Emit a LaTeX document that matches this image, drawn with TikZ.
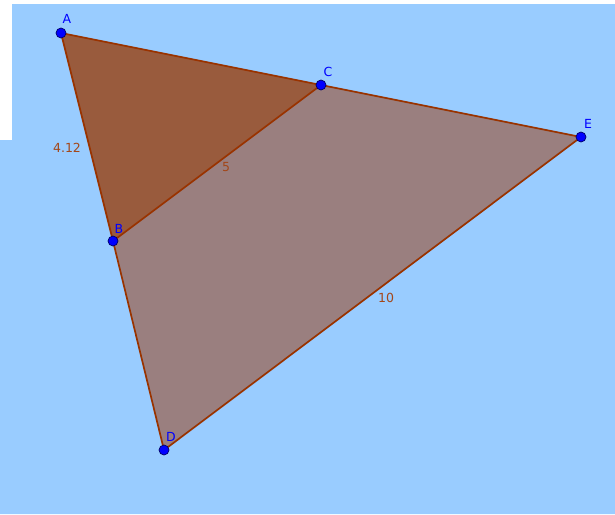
\documentclass[tikz,border=0pt]{standalone}
\usepackage{fontspec}
\setmainfont{DejaVu Sans}
\usepackage{xcolor}
\usetikzlibrary{positioning}
\definecolor{skyback}{RGB}{153,204,255}
\definecolor{edgebrown}{RGB}{153,51,0}
\definecolor{smallfill}{RGB}{153,91,61}
\definecolor{bigfill}{RGB}{154,127,127}
\definecolor{ptblue}{RGB}{0,0,255}
\tikzset{
    vertex/.style={circle,fill=ptblue,draw=ptblue!40!black,line width=0.7pt,inner sep=0pt,minimum size=10pt},
    ptlabel/.style={text=ptblue,font=\fontsize{12.5}{12.5}\selectfont,inner sep=0pt},
    seglabel/.style={text=edgebrown!90!white,font=\fontsize{12.5}{12.5}\selectfont,inner sep=0pt},
    side/.style={draw=edgebrown,line width=1.7pt,line join=round}
}

\begin{document}
\begin{tikzpicture}[x=1pt,y=-1pt]
    \useasboundingbox (0,0) rectangle (615,514);
    \fill[white] (0,0) rectangle (615,514);
    \fill[skyback] (0,140) -- (12,140) -- (12,4) -- (615,4) -- (615,514) -- (0,514) -- cycle;

    \coordinate (A) at (61,33);
    \coordinate (B) at (113,241);
    \coordinate (C) at (321,85);
    \coordinate (D) at (164,450);
    \coordinate (E) at (581,137);

    \fill[bigfill] (B) -- (C) -- (E) -- (D) -- cycle;
    \fill[smallfill] (A) -- (B) -- (C) -- cycle;

    \draw[side] (A) -- (B);
    \draw[side] (A) -- (C);
    \draw[side] (B) -- (C);
    \draw[side] (C) -- (E);
    \draw[side] (E) -- (D);
    \draw[side] (D) -- (B);

    \node[seglabel] (lAB) at (67,148) {4.12};
    \node[seglabel] (lBC) at (226,167) {5};
    \node[seglabel] (lDE) at (386,298) {10};

    \foreach \p/\lx/\ly in {A/67/19,B/119/229,C/328/72,D/171/437,E/588/124} {
        \node[vertex] (v\p) at (\p) {};
        \node[ptlabel] (t\p) at (\lx,\ly) {\p};
    }
\end{tikzpicture}
\end{document}
